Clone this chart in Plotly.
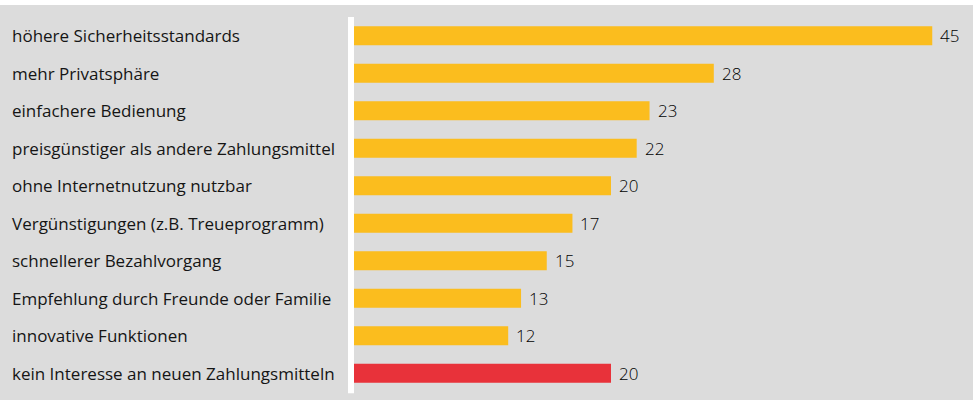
import plotly.graph_objects as go

# Data
categories = [
    "höhere Sicherheitsstandards",
    "mehr Privatsphäre",
    "einfachere Bedienung",
    "preisgünstiger als andere Zahlungsmittel",
    "ohne Internetnutzung nutzbar",
    "Vergünstigungen (z.B. Treueprogramm)",
    "schnellerer Bezahlvorgang",
    "Empfehlung durch Freunde oder Familie",
    "innovative Funktionen",
    "kein Interesse an neuen Zahlungsmitteln",
]
values = [45, 28, 23, 22, 20, 17, 15, 13, 12, 20]

YELLOW = "#fbbd1e"
RED = "#e8323a"
GREY = "#dcdcdc"
TEXT = "#151515"
FONT = "Open Sans"

W, H = 973, 400
LEFT, RIGHT, TOP, BOTTOM = 354, 20, 17, 8
plot_w = W - LEFT - RIGHT

colors = [YELLOW] * (len(values) - 1) + [RED]

fig = go.Figure()
fig.add_trace(go.Bar(
    x=values,
    y=categories,
    orientation="h",
    marker=dict(color=colors, line=dict(width=0)),
    hoverinfo="skip",
))

annotations = []
# category labels, left aligned at the left edge of the page
for cat in categories:
    annotations.append(dict(
        x=(10 - LEFT) / plot_w, xref="paper", y=cat, yref="y",
        text=cat, showarrow=False, xanchor="left", yanchor="middle",
        font=dict(family=FONT, size=17, color=TEXT, weight=500),
    ))
# value labels next to bar ends
for cat, v in zip(categories, values):
    annotations.append(dict(
        x=v, xref="x", y=cat, yref="y",
        text=str(v), showarrow=False, xanchor="left", yanchor="middle",
        xshift=6,
        font=dict(family=FONT, size=17, color="#000000", weight=300),
    ))

fig.update_layout(
    width=W,
    height=H,
    margin=dict(l=LEFT, r=RIGHT, t=TOP, b=BOTTOM),
    paper_bgcolor=GREY,
    plot_bgcolor=GREY,
    bargap=0.49,
    showlegend=False,
    xaxis=dict(range=[0, plot_w / 12.85], visible=False, fixedrange=True),
    yaxis=dict(autorange="reversed", showticklabels=False, showgrid=False,
               zeroline=False, fixedrange=True),
    annotations=annotations,
    shapes=[
        # white strip at the very top of the page
        dict(type="rect", xref="paper", yref="paper",
             x0=-LEFT / plot_w, x1=(W - LEFT) / plot_w,
             y0=1 + (TOP - 5) / (H - TOP - BOTTOM), y1=1 + TOP / (H - TOP - BOTTOM),
             fillcolor="white", line=dict(width=0), layer="below"),
        # white vertical separator left of the bars
        dict(type="rect", xref="paper", yref="paper",
             x0=-6 / plot_w, x1=0, y0=-0.003, y1=1,
             fillcolor="white", line=dict(width=0)),
    ],
)

fig.write_html(
    "out.html",
    config={"displayModeBar": False},
    post_script="document.body.style.margin='0';",
)
